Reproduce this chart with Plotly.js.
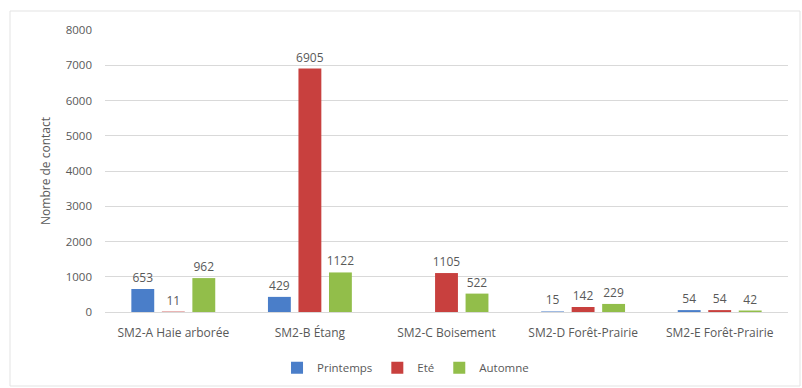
<!DOCTYPE html>
<html>
<head>
<meta charset="utf-8">
<script src="https://cdn.plot.ly/plotly-3.0.1.min.js"></script>
<style>
html,body{margin:0;padding:0;background:#fff;}
#chart{width:802px;height:388px;}
</style>
</head>
<body>
<div id="chart"></div>
<script>
const categories = ["SM2-A Haie arborée", "SM2-B Étang", "SM2-C Boisement", "SM2-D Forêt-Prairie", "SM2-E Forêt-Prairie"];
const printemps = [653, 429, null, 15, 54];
const ete = [11, 6905, 1105, 142, 54];
const automne = [962, 1122, 522, 229, 42];
const seriesNames = ["Printemps", "Eté", "Automne"];
const colors = ["#4A7EC9", "#C8403E", "#92BE4A"];
const yTicks = [0, 1000, 2000, 3000, 4000, 5000, 6000, 7000, 8000];

const font = "Open Sans, Liberation Sans, sans-serif";
const seriesData = [printemps, ete, automne];
const traces = seriesData.map((vals, i) => ({
  type: "bar",
  name: seriesNames[i],
  x: categories,
  y: vals,
  text: vals.map(v => v === null ? "" : String(v)),
  textposition: "outside",
  constraintext: "none",
  cliponaxis: false,
  textfont: {family: font, size: 12, color: "#595959"},
  marker: {color: colors[i]},
  hoverinfo: "x+y+name"
}));

const layout = {
  width: 802,
  height: 388,
  paper_bgcolor: "#fff",
  plot_bgcolor: "#fff",
  margin: {l: 105, r: 14, t: 30, b: 76, autoexpand: false},
  barmode: "group",
  bargap: 0.33,
  bargroupgap: 0.25,
  font: {family: font, color: "#595959", size: 11},
  xaxis: {
    showgrid: false,
    showline: true,
    linecolor: "#d9d9d9",
    linewidth: 1,
    ticks: "",
    ticklabelstandoff: 10,
    tickfont: {family: font, size: 12, color: "#595959"},
    fixedrange: true
  },
  yaxis: {
    range: [0, 8000],
    tickvals: yTicks,
    ticktext: yTicks.map(String),
    showgrid: true,
    gridcolor: "#d9d9d9",
    gridwidth: 1,
    zeroline: false,
    showline: false,
    ticks: "",
    ticklen: 0,
    ticklabelstandoff: 12,
    tickfont: {family: font, size: 11.5, color: "#595959"},
    title: {text: "Nombre de contact", font: {family: font, size: 12, color: "#595959"}, standoff: 12},
    fixedrange: true
  },
  legend: {
    orientation: "h",
    x: 0.44,
    xanchor: "center",
    xref: "paper",
    yref: "container",
    y: 0.052,
    yanchor: "middle",
    font: {family: font, size: 11.5, color: "#595959"},
    itemwidth: 30,
    traceorder: "normal"
  },
  showlegend: true,
  shapes: [{
    type: "rect", xref: "paper", yref: "paper",
    x0: -95/683, x1: (800-105)/683,
    y0: -(386-312)/282, y1: 1 + (30-11)/282,
    line: {color: "#e3e3e3", width: 1}, fillcolor: "rgba(0,0,0,0)", layer: "below"
  }]
};

Plotly.newPlot("chart", traces, layout, {displayModeBar: false, staticPlot: true});
</script>
</body>
</html>
